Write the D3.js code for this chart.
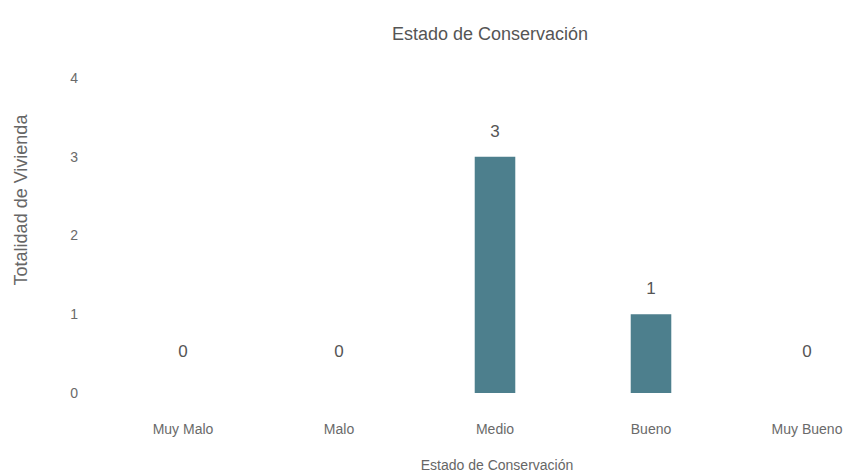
<!DOCTYPE html>
<meta charset="utf-8">
<style>
 body { margin: 0; background: #fff; }
 svg { font-family: "Liberation Sans", Arial, sans-serif; }
 .axis path, .axis line { stroke: none; }
 .axis text { fill: #6a6a6a; font-size: 14px; }
 .bar { fill: #4d7f8d; }
 .lbl { fill: #555; font-size: 17px; text-anchor: middle; }
 .title { fill: #555; font-size: 18px; text-anchor: middle; }
 .atitle { fill: #666; font-size: 14px; text-anchor: middle; }
</style>
<svg width="866" height="475"></svg>
<script src="https://cdn.jsdelivr.net/npm/d3@7"></script>
<script>
 var categories = ['Muy Malo', 'Malo', 'Medio', 'Bueno', 'Muy Bueno']
 var values = [0, 0, 3, 1, 0]
 var yTicks = [0, 1, 2, 3, 4]

 var svg = d3.select('svg')

 var x = d3.scaleBand()
           .domain(categories)
           .range([105, 885])
           .paddingInner(0.74)
           .paddingOuter(0.37)

 var y = d3.scaleLinear()
           .domain([0, 4])
           .range([393, 78])

 // y axis, labels only
 svg.append('g')
    .attr('class', 'axis')
    .attr('transform', 'translate(78,0)')
    .call(d3.axisLeft(y).tickValues(yTicks).tickFormat(d3.format('d')).tickSize(0).tickPadding(0))

 // x axis, labels only
 svg.append('g')
    .attr('class', 'axis')
    .attr('transform', 'translate(0,420)')
    .call(d3.axisBottom(x).tickSize(0).tickPadding(4))

 var data = categories.map((c, i) => ({cat: c, v: values[i]}))

 svg.selectAll('.bar')
    .data(data.filter(d => d.v > 0))
    .enter().append('rect')
    .attr('class', 'bar')
    .attr('x', d => x(d.cat))
    .attr('width', x.bandwidth())
    .attr('y', d => y(d.v))
    .attr('height', d => y(0) - y(d.v))

 svg.selectAll('.lbl')
    .data(data)
    .enter().append('text')
    .attr('class', 'lbl')
    .attr('x', d => x(d.cat) + x.bandwidth() / 2)
    .attr('y', d => y(d.v) - (d.v > 0 ? 20 : 36))
    .text(d => d.v)

 svg.append('text')
    .attr('class', 'title')
    .attr('x', 490)
    .attr('y', 40)
    .text('Estado de Conservación')

 svg.append('text')
    .attr('class', 'atitle')
    .attr('x', 497)
    .attr('y', 470)
    .text('Estado de Conservación')

 svg.append('text')
    .attr('class', 'atitle')
    .attr('transform', 'translate(27,200) rotate(-90)')
    .style('font-size', '18px')
    .text('Totalidad de Vivienda')
</script>
